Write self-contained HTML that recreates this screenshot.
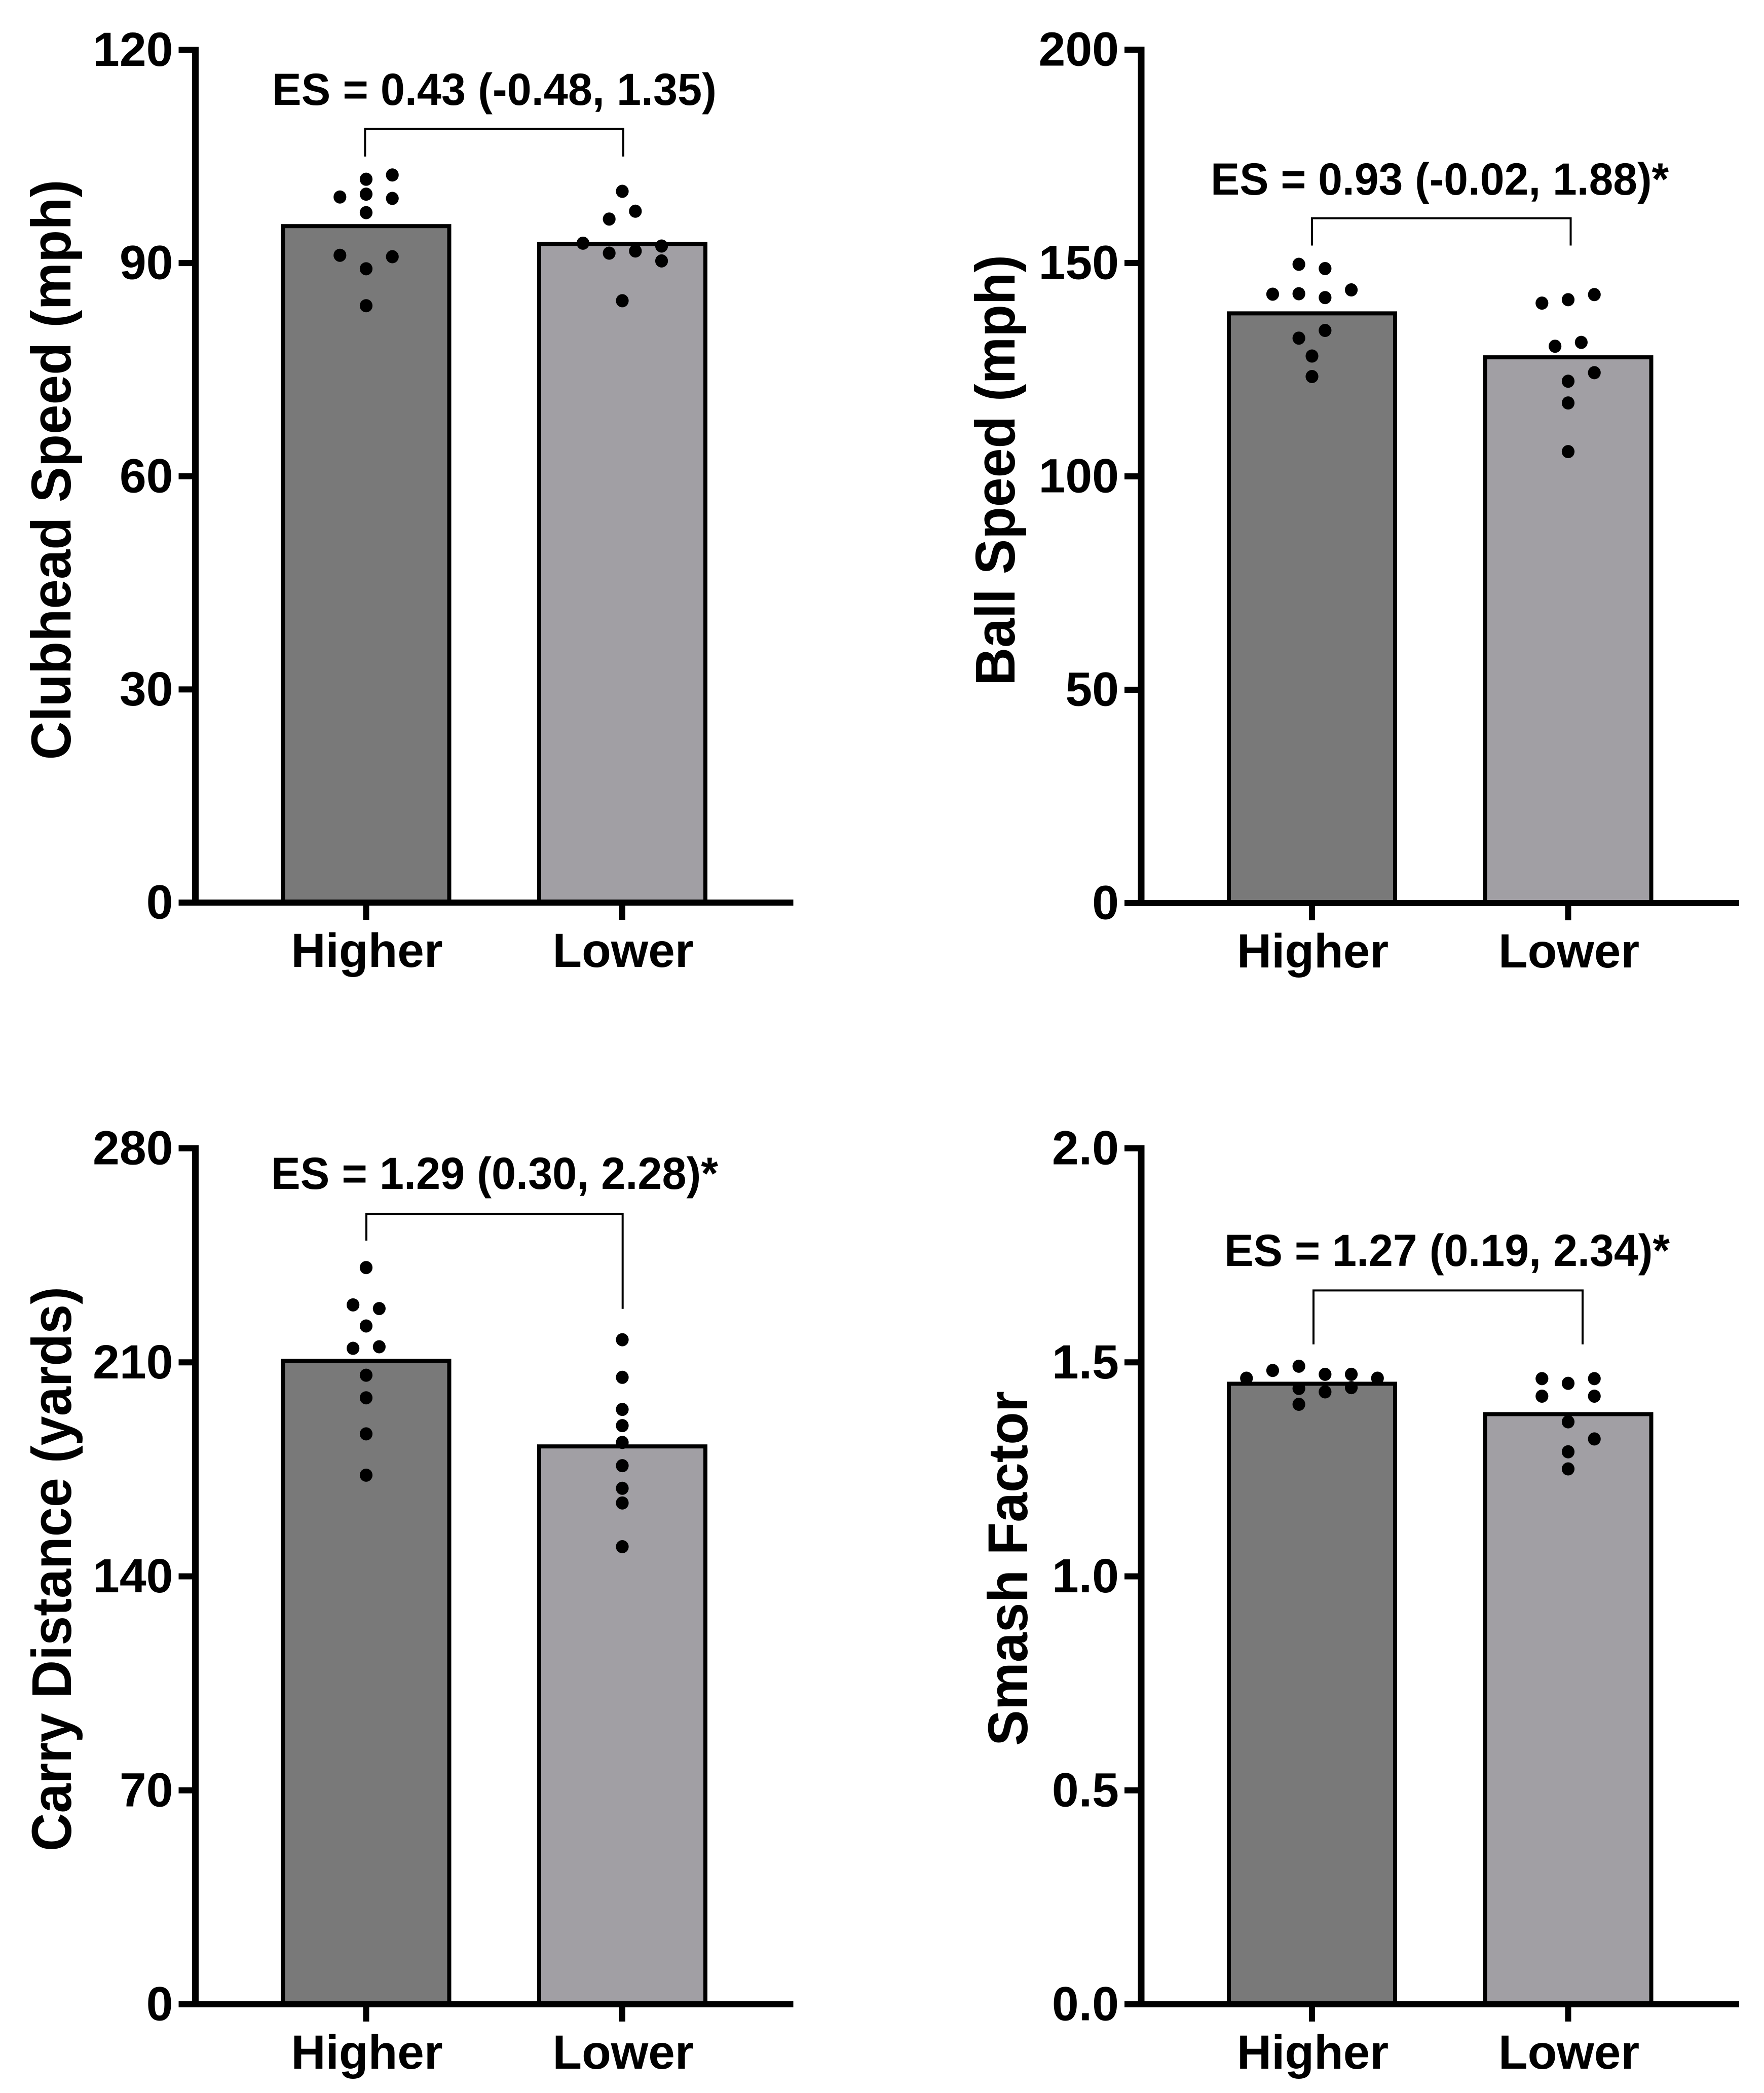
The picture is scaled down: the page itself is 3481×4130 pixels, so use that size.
<!DOCTYPE html>
<html lang="en">
<head>
<meta charset="utf-8">
<title>Clubhead speed, ball speed, carry distance and smash factor by group</title>
<style>
html,body{margin:0;padding:0;background:#fff;}
svg{display:block;}
text{font-family:"Liberation Sans",Arial,sans-serif;font-weight:bold;fill:#000;}
</style>
</head>
<body>
<svg id="figure" xmlns="http://www.w3.org/2000/svg" width="3481" height="4130" viewBox="0 0 3481 4130"></svg>
<script>
const categories = ['Higher', 'Lower'];

const clubheadTickLabels = ['0', '30', '60', '90', '120'];
const clubheadMeans = [95.2, 92.7];
const clubheadHigherValues = [102.4, 101.8, 99.3, 99.7, 99.1, 97.1, 91.1, 90.9, 89.2, 84.0];
const clubheadHigherSlots = [1, 0, -1, 0, 1, 0, -1, 1, 0, 0];
const clubheadLowerValues = [100.1, 97.3, 96.2, 92.8, 92.4, 91.4, 91.7, 90.3, 84.7];
const clubheadLowerSlots = [0, 0.5, -0.5, -1.5, 1.5, -0.5, 0.5, 1.5, 0];
const clubheadBracket = [108.9, 105.0, 105.0];

const ballTickLabels = ['0', '50', '100', '150', '200'];
const ballMeans = [138.2, 127.9];
const ballHigherValues = [149.7, 148.7, 142.7, 142.8, 141.9, 143.7, 134.2, 132.4, 128.2, 123.4];
const ballHigherSlots = [-0.5, 0.5, -1.5, -0.5, 0.5, 1.5, 0.5, -0.5, 0, 0];
const ballLowerValues = [140.6, 141.4, 142.6, 130.5, 131.4, 124.3, 122.3, 117.2, 105.8];
const ballLowerSlots = [-1, 0, 1, -0.5, 0.5, 1, 0, 0, 0];
const ballBracket = [160.5, 154.1, 154.1];

const carryTickLabels = ['0', '70', '140', '210', '280'];
const carryMeans = [210.5, 182.5];
const carryHigherValues = [241.0, 228.8, 227.6, 221.9, 214.6, 215.1, 205.8, 198.4, 186.6, 173.1];
const carryHigherSlots = [0, -0.5, 0.5, 0, -0.5, 0.5, 0, 0, 0, 0];
const carryLowerValues = [217.4, 205.1, 194.6, 189.3, 183.8, 176.2, 168.8, 164.0, 149.7];
const carryLowerSlots = [0, 0, 0, 0, 0, 0, 0, 0, 0];
const carryBracket = [258.5, 249.8, 227.5];

const smashTickLabels = ['0.0', '0.5', '1.0', '1.5', '2.0'];
const smashMeans = [1.450, 1.379];
const smashHigherValues = [1.463, 1.481, 1.491, 1.472, 1.472, 1.463, 1.439, 1.431, 1.441, 1.402];
const smashHigherSlots = [-2.5, -1.5, -0.5, 0.5, 1.5, 2.5, -0.5, 0.5, 1.5, -0.5];
const smashLowerValues = [1.462, 1.451, 1.462, 1.421, 1.421, 1.361, 1.321, 1.291, 1.251];
const smashLowerSlots = [-1, 0, 1, -1, 1, 0, 1, 0, 0];
const smashBracket = [1.668, 1.542, 1.542];

const svgNS = 'http://www.w3.org/2000/svg';
const figure = document.getElementById('figure');
const barColors = ['#797979', '#a19fa4'];

function make(parent, tag, attrs, content) {
  const el = document.createElementNS(svgNS, tag);
  for (const key in attrs) el.setAttribute(key, attrs[key]);
  if (content !== undefined) el.textContent = content;
  parent.appendChild(el);
  return el;
}

function drawPanel(p) {
  const group = make(figure, 'g', {});
  
  

  const maxTick = Number(p.tickLabels[p.tickLabels.length - 1]);
  const yScale = v => p.bottom - (v / maxTick) * (p.bottom - p.top);
  const xBand = i => p.axisX + 337 + 505.5 * i;
  const slotWidth = 51.7;

  // bars
  p.means.forEach((m, i) => {
    const bar = make(group, 'rect', {
      x: xBand(i) - 164, y: yScale(m), width: 328, height: p.bottom - yScale(m),
      fill: barColors[i], stroke: '#000', 'stroke-width': 8
    });
    
    
  });

  // points
  [[p.higher, p.higherSlots], [p.lower, p.lowerSlots]].forEach((series, i) => {
    series[0].forEach((v, j) => {
      const dot = make(group, 'ellipse', {
        cx: xBand(i) + series[1][j] * slotWidth, cy: yScale(v), rx: 12.6, ry: 13, fill: '#000'
      });
      
      
    });
  });

  // y axis line
  const yAxis = make(group, 'line', {
    x1: p.axisX, x2: p.axisX, y1: p.top - 6, y2: p.bottom + 6, stroke: '#000', 'stroke-width': 13
  });
  
  

  // x axis line
  const xAxis = make(group, 'line', {
    x1: p.axisX - 33, x2: p.axisX + 1180, y1: p.bottom, y2: p.bottom, stroke: '#000', 'stroke-width': 12
  });
  
  

  // y ticks and labels
  p.tickLabels.forEach(label => {
    const y = yScale(Number(label));
    const tick = make(group, 'line', {
      x1: p.axisX - 33, x2: p.axisX, y1: y, y2: y, stroke: '#000', 'stroke-width': 12
    });
    
    
    const text = make(group, 'text', {
      x: p.axisX - 44, y: y + 31.5, 'text-anchor': 'end', 'font-size': 95
    }, label);
    
    
  });

  // x ticks and labels
  categories.forEach((c, i) => {
    const tick = make(group, 'line', {
      x1: xBand(i), x2: xBand(i), y1: p.bottom, y2: p.bottom + 34, stroke: '#000', 'stroke-width': 12
    });
    
    
    const text = make(group, 'text', {
      x: xBand(i) + 1.5, y: p.bottom + 127, 'text-anchor': 'middle', 'font-size': 94.5
    }, c);
    
    
  });

  // y axis title
  const title = make(group, 'text', {
    x: p.titleBase, y: p.titleCenter, 'text-anchor': 'middle', 'font-size': 110,
    transform: 'rotate(-90 ' + p.titleBase + ' ' + p.titleCenter + ')',
    textLength: p.titleLength, lengthAdjust: 'spacingAndGlyphs'
  }, p.title);
  
  

  // effect size bracket
  const bx0 = xBand(0) + p.bracketOffsets[0];
  const bx1 = xBand(1) + p.bracketOffsets[1];
  const bracketPath = 'M' + bx0 + ' ' + yScale(p.bracket[1]) + 'V' + yScale(p.bracket[0]) +
    'H' + bx1 + 'V' + yScale(p.bracket[2]);
  const bracket = make(group, 'path', {
    d: bracketPath, fill: 'none', stroke: '#000', 'stroke-width': 4
  });
  
  

  // effect size label
  const es = make(group, 'text', {
    x: p.esX, y: p.esBase, 'font-size': 89,
    textLength: p.esLength, lengthAdjust: 'spacingAndGlyphs'
  }, p.es);
  
  
}

drawPanel({
  key: 'clubhead-speed', title: 'Clubhead Speed (mph)', es: 'ES = 0.43 (-0.48, 1.35)',
  tickLabels: clubheadTickLabels, means: clubheadMeans,
  higher: clubheadHigherValues, higherSlots: clubheadHigherSlots,
  lower: clubheadLowerValues, lowerSlots: clubheadLowerSlots, bracket: clubheadBracket,
  axisX: 385.5, top: 98.5, bottom: 1781, titleBase: 139, titleCenter: 927, titleLength: 1145,
  bracketOffsets: [-2.1, 2], esX: 537, esBase: 207, esLength: 877
});
drawPanel({
  key: 'ball-speed', title: 'Ball Speed (mph)', es: 'ES = 0.93 (-0.02, 1.88)*',
  tickLabels: ballTickLabels, means: ballMeans,
  higher: ballHigherValues, higherSlots: ballHigherSlots,
  lower: ballLowerValues, lowerSlots: ballLowerSlots, bracket: ballBracket,
  axisX: 2252, top: 98, bottom: 1782, titleBase: 2002, titleCenter: 928, titleLength: 850,
  bracketOffsets: [0, 5], esX: 2389, esBase: 384, esLength: 904
});
drawPanel({
  key: 'carry-distance', title: 'Carry Distance (yards)', es: 'ES = 1.29 (0.30, 2.28)*',
  tickLabels: carryTickLabels, means: carryMeans,
  higher: carryHigherValues, higherSlots: carryHigherSlots,
  lower: carryLowerValues, lowerSlots: carryLowerSlots, bracket: carryBracket,
  axisX: 385.5, top: 2266, bottom: 3955, titleBase: 140, titleCenter: 3096, titleLength: 1114,
  bracketOffsets: [0.5, 0.7], esX: 535, esBase: 2346, esLength: 882
});
drawPanel({
  key: 'smash-factor', title: 'Smash Factor', es: 'ES = 1.27 (0.19, 2.34)*',
  tickLabels: smashTickLabels, means: smashMeans,
  higher: smashHigherValues, higherSlots: smashHigherSlots,
  lower: smashLowerValues, lowerSlots: smashLowerSlots, bracket: smashBracket,
  axisX: 2252, top: 2266, bottom: 3955, titleBase: 2027, titleCenter: 3095, titleLength: 700,
  bracketOffsets: [3, 28.5], esX: 2416, esBase: 2498, esLength: 879
});
</script>
</body>
</html>
